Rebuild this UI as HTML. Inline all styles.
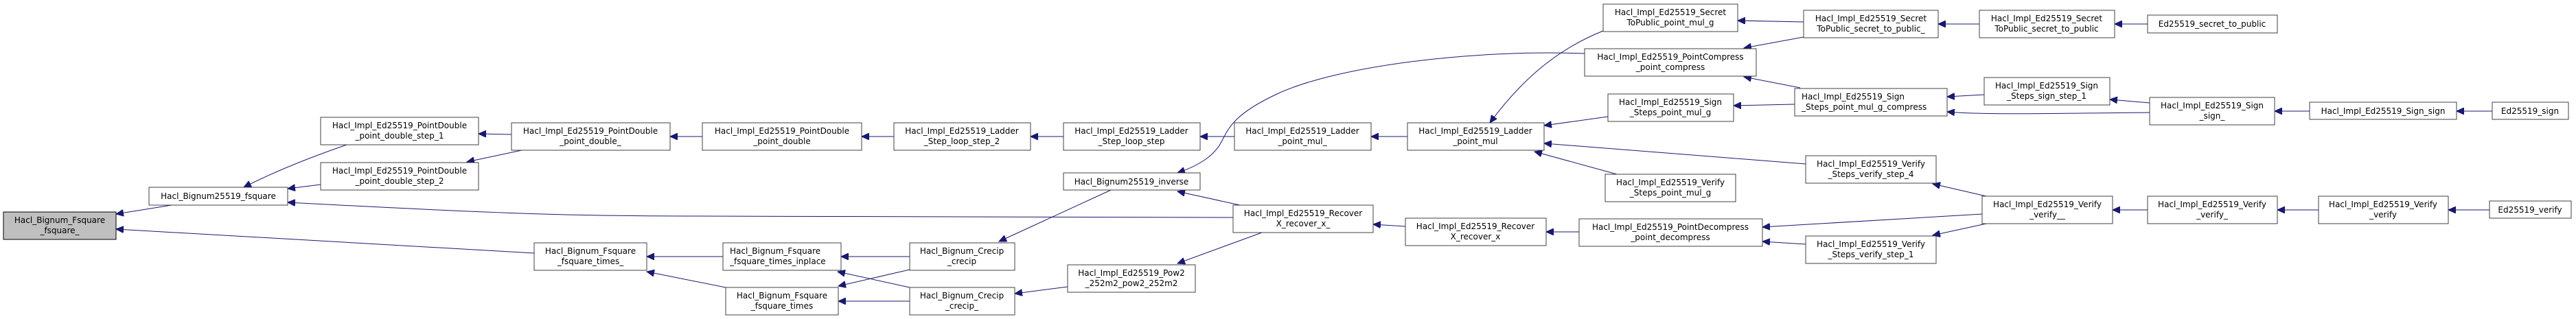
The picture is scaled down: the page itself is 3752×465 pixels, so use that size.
<!DOCTYPE html>
<html><head><meta charset="utf-8"><style>
html,body{margin:0;padding:0;background:#fff;}
svg{display:block;}
text{font-family:"DejaVu Sans","Liberation Sans",sans-serif;font-size:12px;fill:#000;}
.n{fill:#fff;stroke:#404040;stroke-width:1;}
.e{fill:none;stroke:#191970;stroke-width:1;}
</style></head><body>
<svg width="3752" height="465" viewBox="0 0 3752 465" xmlns="http://www.w3.org/2000/svg">
<defs><marker id="a" markerWidth="12" markerHeight="10" refX="11" refY="5" orient="auto" markerUnits="userSpaceOnUse"><path d="M0,0 L11,5 L0,10 z" fill="#191970" stroke="#191970"/></marker></defs>
<g class="e" marker-end="url(#a)">
<path d="M250,299 L169,312"/>
<path d="M778,369 L169,334"/>
<path d="M505,211 C450,230 400,250 355,273"/>
<path d="M467,269 L419,275"/>
<path d="M1796,317 L1000,315 C820,315 700,310 419,295"/>
<path d="M745,196 L697,195"/>
<path d="M760,219 L680,236"/>
<path d="M1023,199 L976,199"/>
<path d="M1302,199 L1255,199"/>
<path d="M1549,199 L1501,199"/>
<path d="M1798,199 L1748,199"/>
<path d="M2050,199 L1997,199"/>
<path d="M2335,45 C2260,75 2210,125 2170,179"/>
<path d="M2342,170 L2249,183"/>
<path d="M2630,239 L2249,209"/>
<path d="M2355,254 L2235,221"/>
<path d="M2308,78 C2150,72 1950,95 1860,137 C1800,165 1790,185 1780,205 C1770,225 1750,240 1715,252"/>
<path d="M1806,299 L1715,279"/>
<path d="M1618,277 L1455,352"/>
<path d="M1325,374 L1225,374"/>
<path d="M1325,393 L1221,417"/>
<path d="M1325,419 L1220,396"/>
<path d="M1325,439 L1221,439"/>
<path d="M1053,374 L942,374"/>
<path d="M1057,419 L942,396"/>
<path d="M1555,418 L1478,428"/>
<path d="M1838,339 L1715,384"/>
<path d="M2047,330 L2000,327"/>
<path d="M2300,338 L2252,338"/>
<path d="M2627,32 L2531,30"/>
<path d="M2627,54 L2540,70"/>
<path d="M2622,128 L2540,112"/>
<path d="M2614,152 L2525,154"/>
<path d="M2890,138 L2836,141"/>
<path d="M3131,164 C3000,165 2900,168 2836,163"/>
<path d="M3131,150 L3073,145"/>
<path d="M2883,35 L2823,35"/>
<path d="M3128,35 L3080,35"/>
<path d="M2893,286 L2815,268"/>
<path d="M2887,312 L2567,331"/>
<path d="M2630,356 L2567,352"/>
<path d="M2893,326 L2815,343"/>
<path d="M3128,306 L3077,306"/>
<path d="M3364,162 L3313,162"/>
<path d="M3630,162 L3578,162"/>
<path d="M3377,306 L3317,306"/>
<path d="M3626,306 L3566,306"/>
</g>
<g>
<rect x="5" y="309" width="164" height="40" fill="#bfbfbf" stroke="#000"/>
<text x="87" y="325" text-anchor="middle">Hacl_Bignum_Fsquare</text><text x="87" y="340" text-anchor="middle">_fsquare_</text>

<rect class="n" x="217" y="273" width="202" height="26"/>
<text x="318" y="290" text-anchor="middle">Hacl_Bignum25519_fsquare</text>

<rect class="n" x="467" y="171" width="230" height="40"/>
<text x="582" y="187" text-anchor="middle">Hacl_Impl_Ed25519_PointDouble</text><text x="582" y="202" text-anchor="middle">_point_double_step_1</text>
<rect class="n" x="467" y="237" width="230" height="40"/>
<text x="582" y="253" text-anchor="middle">Hacl_Impl_Ed25519_PointDouble</text><text x="582" y="268" text-anchor="middle">_point_double_step_2</text>

<rect class="n" x="745" y="179" width="231" height="40"/>
<text x="860" y="195" text-anchor="middle">Hacl_Impl_Ed25519_PointDouble</text><text x="860" y="210" text-anchor="middle">_point_double_</text>
<rect class="n" x="1023" y="179" width="232" height="40"/>
<text x="1139" y="195" text-anchor="middle">Hacl_Impl_Ed25519_PointDouble</text><text x="1139" y="210" text-anchor="middle">_point_double</text>

<rect class="n" x="778" y="354" width="164" height="40"/>
<text x="860" y="370" text-anchor="middle">Hacl_Bignum_Fsquare</text><text x="860" y="385" text-anchor="middle">_fsquare_times_</text>
<rect class="n" x="1053" y="354" width="172" height="40"/>
<text x="1063" y="370">Hacl_Bignum_Fsquare</text><text x="1063" y="385">_fsquare_times_inplace</text>
<rect class="n" x="1057" y="419" width="164" height="40"/>
<text x="1139" y="435" text-anchor="middle">Hacl_Bignum_Fsquare</text><text x="1139" y="450" text-anchor="middle">_fsquare_times</text>

<rect class="n" x="1302" y="179" width="199" height="40"/>
<text x="1401" y="195" text-anchor="middle">Hacl_Impl_Ed25519_Ladder</text><text x="1401" y="210" text-anchor="middle">_Step_loop_step_2</text>
<rect class="n" x="1549" y="179" width="199" height="40"/>
<text x="1648" y="195" text-anchor="middle">Hacl_Impl_Ed25519_Ladder</text><text x="1648" y="210" text-anchor="middle">_Step_loop_step</text>
<rect class="n" x="1798" y="179" width="199" height="40"/>
<text x="1897" y="195" text-anchor="middle">Hacl_Impl_Ed25519_Ladder</text><text x="1897" y="210" text-anchor="middle">_point_mul_</text>
<rect class="n" x="2050" y="179" width="199" height="40"/>
<text x="2149" y="195" text-anchor="middle">Hacl_Impl_Ed25519_Ladder</text><text x="2149" y="210" text-anchor="middle">_point_mul</text>

<rect class="n" x="1549" y="252" width="199" height="25"/>
<text x="1648" y="269" text-anchor="middle">Hacl_Bignum25519_inverse</text>
<rect class="n" x="1325" y="354" width="153" height="40"/>
<text x="1401" y="370" text-anchor="middle">Hacl_Bignum_Crecip</text><text x="1401" y="385" text-anchor="middle">_crecip</text>
<rect class="n" x="1325" y="419" width="153" height="40"/>
<text x="1401" y="435" text-anchor="middle">Hacl_Bignum_Crecip</text><text x="1401" y="450" text-anchor="middle">_crecip_</text>
<rect class="n" x="1555" y="386" width="186" height="40"/>
<text x="1648" y="402" text-anchor="middle">Hacl_Impl_Ed25519_Pow2</text><text x="1648" y="417" text-anchor="middle">_252m2_pow2_252m2</text>
<rect class="n" x="1796" y="299" width="204" height="40"/>
<text x="1898" y="315" text-anchor="middle">Hacl_Impl_Ed25519_Recover</text><text x="1898" y="330" text-anchor="middle">X_recover_x_</text>
<rect class="n" x="2047" y="318" width="205" height="40"/>
<text x="2149" y="334" text-anchor="middle">Hacl_Impl_Ed25519_Recover</text><text x="2149" y="349" text-anchor="middle">X_recover_x</text>

<rect class="n" x="2335" y="6" width="196" height="40"/>
<text x="2433" y="22" text-anchor="middle">Hacl_Impl_Ed25519_Secret</text><text x="2433" y="37" text-anchor="middle">ToPublic_point_mul_g</text>
<rect class="n" x="2308" y="71" width="250" height="40"/>
<text x="2433" y="87" text-anchor="middle">Hacl_Impl_Ed25519_PointCompress</text><text x="2433" y="102" text-anchor="middle">_point_compress</text>
<rect class="n" x="2342" y="137" width="183" height="40"/>
<text x="2433" y="153" text-anchor="middle">Hacl_Impl_Ed25519_Sign</text><text x="2433" y="168" text-anchor="middle">_Steps_point_mul_g</text>
<rect class="n" x="2338" y="254" width="190" height="40"/>
<text x="2433" y="270" text-anchor="middle">Hacl_Impl_Ed25519_Verify</text><text x="2433" y="285" text-anchor="middle">_Steps_point_mul_g</text>
<rect class="n" x="2300" y="319" width="267" height="40"/>
<text x="2433" y="335" text-anchor="middle">Hacl_Impl_Ed25519_PointDecompress</text><text x="2433" y="350" text-anchor="middle">_point_decompress</text>

<rect class="n" x="2627" y="15" width="196" height="40"/>
<text x="2725" y="31" text-anchor="middle">Hacl_Impl_Ed25519_Secret</text><text x="2725" y="46" text-anchor="middle">ToPublic_secret_to_public_</text>
<rect class="n" x="2614" y="129" width="222" height="40"/>
<text x="2624" y="145">Hacl_Impl_Ed25519_Sign</text><text x="2624" y="160">_Steps_point_mul_g_compress</text>
<rect class="n" x="2630" y="227" width="190" height="40"/>
<text x="2725" y="243" text-anchor="middle">Hacl_Impl_Ed25519_Verify</text><text x="2725" y="258" text-anchor="middle">_Steps_verify_step_4</text>
<rect class="n" x="2630" y="344" width="190" height="40"/>
<text x="2725" y="360" text-anchor="middle">Hacl_Impl_Ed25519_Verify</text><text x="2725" y="375" text-anchor="middle">_Steps_verify_step_1</text>

<rect class="n" x="2883" y="15" width="197" height="40"/>
<text x="2981" y="31" text-anchor="middle">Hacl_Impl_Ed25519_Secret</text><text x="2981" y="46" text-anchor="middle">ToPublic_secret_to_public</text>
<rect class="n" x="2890" y="113" width="183" height="40"/>
<text x="2981" y="129" text-anchor="middle">Hacl_Impl_Ed25519_Sign</text><text x="2981" y="144" text-anchor="middle">_Steps_sign_step_1</text>
<rect class="n" x="2887" y="286" width="190" height="40"/>
<text x="2982" y="302" text-anchor="middle">Hacl_Impl_Ed25519_Verify</text><text x="2982" y="317" text-anchor="middle">_verify__</text>

<rect class="n" x="3128" y="22" width="189" height="26"/>
<text x="3222" y="39" text-anchor="middle">Ed25519_secret_to_public</text>
<rect class="n" x="3131" y="142" width="182" height="40"/>
<text x="3222" y="158" text-anchor="middle">Hacl_Impl_Ed25519_Sign</text><text x="3222" y="173" text-anchor="middle">_sign_</text>
<rect class="n" x="3364" y="149" width="214" height="25"/>
<text x="3471" y="166" text-anchor="middle">Hacl_Impl_Ed25519_Sign_sign</text>
<rect class="n" x="3630" y="149" width="111" height="25"/>
<text x="3685" y="166" text-anchor="middle">Ed25519_sign</text>
<rect class="n" x="3128" y="286" width="189" height="40"/>
<text x="3222" y="302" text-anchor="middle">Hacl_Impl_Ed25519_Verify</text><text x="3222" y="317" text-anchor="middle">_verify_</text>
<rect class="n" x="3377" y="286" width="189" height="40"/>
<text x="3471" y="302" text-anchor="middle">Hacl_Impl_Ed25519_Verify</text><text x="3471" y="317" text-anchor="middle">_verify</text>
<rect class="n" x="3626" y="293" width="119" height="25"/>
<text x="3685" y="310" text-anchor="middle">Ed25519_verify</text>
</g>
</svg>
</body></html>
